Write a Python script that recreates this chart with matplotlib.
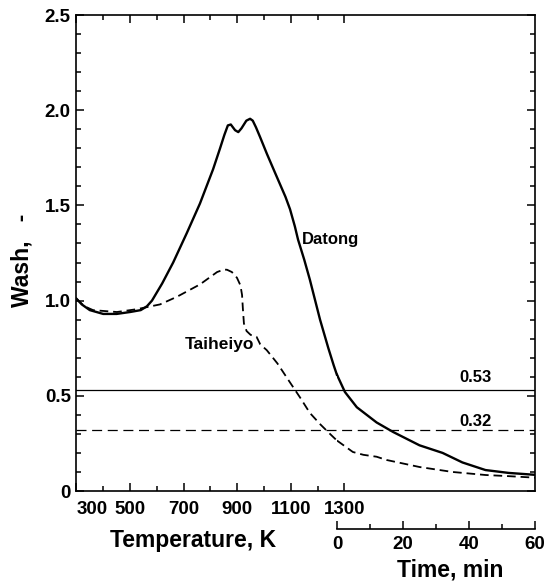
import numpy as np
import matplotlib
matplotlib.use("Agg")
import matplotlib.pyplot as plt
from matplotlib.ticker import MultipleLocator, FixedLocator

plt.rcParams['font.family'] = ['Liberation Sans', 'DejaVu Sans']
plt.rcParams['font.weight'] = 'bold'

# Datong, heating part (temperature, K)
datong_T = [300, 320, 350, 400, 450, 500, 540, 563, 582, 620, 661, 712, 761, 810,
            836, 852, 865, 876, 892, 904, 916, 934, 948, 958, 970, 985, 1011, 1040,
            1060, 1080, 1097, 1115, 1127, 1150, 1171, 1209, 1240, 1260, 1272]
datong_T_wash = [1.01, 0.98, 0.95, 0.93, 0.93, 0.94, 0.95, 0.97, 1.00, 1.09, 1.20,
                 1.355, 1.51, 1.69, 1.80, 1.87, 1.92, 1.925, 1.895, 1.885, 1.905,
                 1.945, 1.955, 1.945, 1.91, 1.86, 1.77, 1.675, 1.61, 1.545, 1.48,
                 1.39, 1.32, 1.215, 1.11, 0.90, 0.75, 0.66, 0.61]
# Datong, holding part (time, min)
datong_t = [0, 2.4, 6, 12, 17, 25, 32, 38, 45, 52, 60]
datong_t_wash = [0.61, 0.52, 0.44, 0.36, 0.31, 0.24, 0.20, 0.15, 0.11, 0.095, 0.085]

# Taiheiyo, heating part
taiheiyo_T = [300, 330, 362, 451, 526, 612, 675, 761, 825, 850, 862, 880, 899, 912,
              918, 921, 925, 935, 950, 972, 986, 1010, 1050, 1097, 1135, 1171, 1210,
              1246, 1272]
taiheiyo_T_wash = [1.01, 0.97, 0.95, 0.94, 0.955, 0.98, 1.02, 1.085, 1.15, 1.163,
                   1.162, 1.15, 1.12, 1.08, 1.03, 0.96, 0.88, 0.84, 0.82, 0.81, 0.77,
                   0.74, 0.67, 0.57, 0.49, 0.41, 0.35, 0.30, 0.265]
# Taiheiyo, holding part
taiheiyo_t = [0, 4.8, 8, 12, 15, 25, 35, 45, 52, 60]
taiheiyo_t_wash = [0.265, 0.205, 0.19, 0.18, 0.163, 0.126, 0.10, 0.084, 0.078, 0.07]

# reference levels
level_datong = 0.53
level_taiheiyo = 0.32

temp_major = [300, 500, 700, 900, 1100, 1300]
temp_minor = [400, 600, 800, 1000, 1200]
wash_major = [0, 0.5, 1.0, 1.5, 2.0, 2.5]
wash_labels = ['0', '0.5', '1.0', '1.5', '2.0', '2.5']

W, H = 546, 581
fig = plt.figure(figsize=(W / 100, H / 100), dpi=100)

x0, x1 = 76.4 / W, 535 / W
y0, y1 = 1 - 491 / H, 1 - 15 / H
ax = fig.add_axes([x0, y0, x1 - x0, y1 - y0])
t0 = 337 / W
axt = fig.add_axes([t0, y0, x1 - t0, y1 - y0])

ax.set_xlim(300, 2011)
for s in ax.spines.values():
    s.set_linewidth(1.2)

ax.plot(datong_T, datong_T_wash, color='black', lw=1.7)
ax.plot(taiheiyo_T, taiheiyo_T_wash, color='black', lw=1.3, dashes=(4.8, 2.7))
ax.axhline(level_datong, color='black', lw=0.9)
ax.axhline(level_taiheiyo, color='black', lw=0.9, dashes=(8, 4.5))

ax.xaxis.set_major_locator(FixedLocator(temp_major))
ax.xaxis.set_minor_locator(FixedLocator(temp_minor))
ax.set_xticklabels([str(v) for v in temp_major])
ax.get_xticklabels()[0].set_ha('left')
ax.yaxis.set_major_locator(FixedLocator(wash_major))
ax.yaxis.set_minor_locator(MultipleLocator(0.1))
ax.set_yticklabels(wash_labels)
ax.set_ylim(0, 2.5)
ax.tick_params(which='both', direction='in', top=True, right=True, labelsize=13.5,
               width=1.1)
ax.tick_params(which='major', length=6)
ax.tick_params(which='minor', length=3.5)
ax.tick_params(axis='x', pad=7)
ax.tick_params(axis='y', pad=4)

ax.text(1140, 1.32, 'Datong', fontsize=12, ha='left', va='center')
ax.text(705, 0.77, 'Taiheiyo', fontsize=12.5, ha='left', va='center')

# time axis (holding at 1300 K)
axt.set_xlim(0, 60)
axt.set_ylim(0, 2.5)
axt.patch.set_visible(False)
for side in ['top', 'left', 'right']:
    axt.spines[side].set_visible(False)
axt.spines['bottom'].set_position(('outward', 27.5))
axt.spines['bottom'].set_linewidth(1.2)
axt.set_yticks([])
axt.plot(datong_t, datong_t_wash, color='black', lw=1.7)
axt.plot(taiheiyo_t, taiheiyo_t_wash, color='black', lw=1.3, dashes=(4.8, 2.7))
axt.xaxis.set_major_locator(MultipleLocator(20))
axt.xaxis.set_minor_locator(MultipleLocator(10))
axt.tick_params(which='both', direction='in', labelsize=13.5, width=1.1, pad=5)
axt.tick_params(which='major', length=6)
axt.tick_params(which='minor', length=3.5)
axt.text(42, 0.555, '0.53', fontsize=12, ha='center', va='bottom')
axt.text(42, 0.325, '0.32', fontsize=12, ha='center', va='bottom')

fig.text(193 / W, 1 - 540 / H, 'Temperature, K', fontsize=16.5, ha='center', va='center')
fig.text(450 / W, 1 - 570 / H, 'Time, min', fontsize=16.5, ha='center', va='center')
fig.text(22 / W, 1 - 260 / H, 'Wash,   -', fontsize=16.5, ha='center', va='center',
         rotation=90)

fig.savefig('out.png', dpi=100, facecolor='white')
